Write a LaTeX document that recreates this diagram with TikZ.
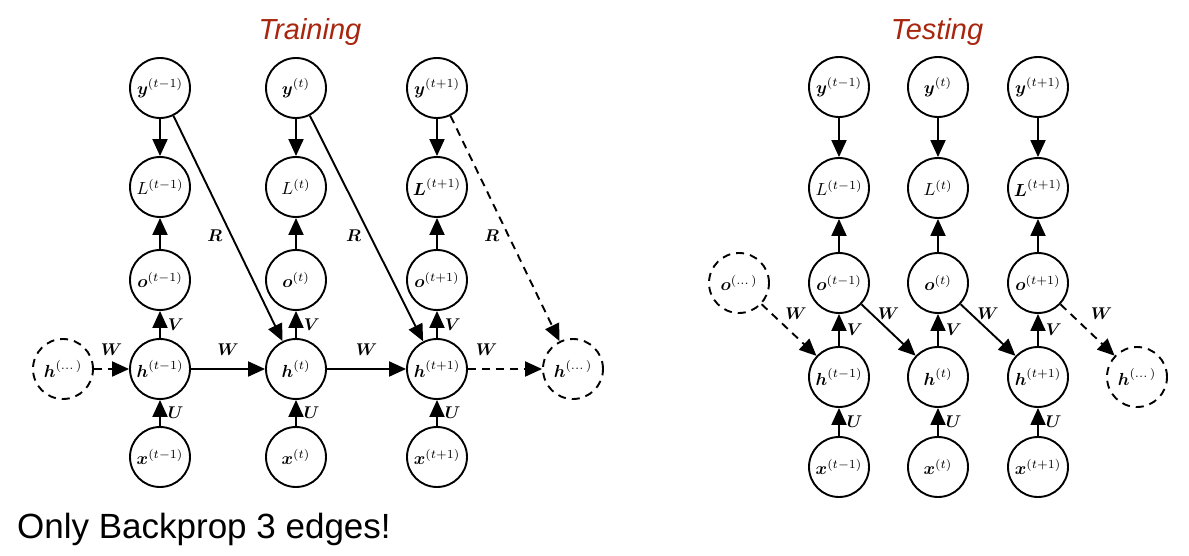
\documentclass[tikz,border=0pt]{standalone}
\usepackage{amsmath}
\usepackage{graphicx}
\usepackage{fontspec}
\newfontfamily\arialfont{Liberation Sans}
\usetikzlibrary{arrows.meta}
\definecolor{titlered}{RGB}{168,38,14}
\newcommand{\bs}[1]{\boldsymbol{#1}}
\newcommand{\nl}[1]{\scalebox{1.75}{$#1$}}
\newcommand{\el}[1]{\scalebox{1.7}{$\boldsymbol{#1}$}}
\begin{document}
\begin{tikzpicture}[x=1pt,y=-1pt,
  nd/.style={circle,draw,line width=1.9pt,minimum size=60pt,inner sep=0pt},
  dnd/.style={nd,dash pattern=on 8pt off 6pt},
  arr/.style={line width=1.9pt,-{Triangle[length=17pt,width=15pt]}},
  darr/.style={arr,dash pattern=on 8pt off 6pt},
  lbl/.style={inner sep=1pt},
  ttl/.style={font=\arialfont\itshape\fontsize{29}{34}\selectfont,text=titlered,anchor=base,inner sep=0pt}]
\useasboundingbox (0,0) rectangle (1189,556);

% ---------- Training ----------
\node[ttl] (ttrain) at (310,40) {Training};
\foreach \c/\x/\s in {1/160/t-1,2/296/t,3/437/t+1}{
  \node[nd] (y\c) at (\x,88) {\nl{\bs{y}^{(\s)}}};
  \node[nd] (o\c) at (\x,280) {\nl{\bs{o}^{(\s)}}};
  \node[nd] (h\c) at (\x,369) {\nl{\bs{h}^{(\s)}}};
  \node[nd] (x\c) at (\x,457) {\nl{\bs{x}^{(\s)}}};
}
\node[nd] (L1) at (160,187) {\nl{L^{(t-1)}}};
\node[nd] (L2) at (296,187) {\nl{L^{(t)}}};
\node[nd] (L3) at (437,187) {\nl{\bs{L}^{(t+1)}}};
\node[dnd] (hl) at (63,369) {\nl{\bs{h}^{(\dots)}}};
\node[dnd] (hr) at (573,369) {\nl{\bs{h}^{(\dots)}}};

\foreach \c in {1,2,3}{
  \draw[arr] (y\c) -- (L\c);
  \draw[arr] (o\c) -- (L\c);
  \draw[arr] (h\c) -- node[lbl,right=6pt]{\el{V}} (o\c);
  \draw[arr] (x\c) -- node[lbl,right=6pt]{\el{U}} (h\c);
}
\draw[darr] (hl) -- node[lbl,above=12pt]{\el{W}} (h1);
\draw[arr] (h1) -- node[lbl,above=12pt]{\el{W}} (h2);
\draw[arr] (h2) -- node[lbl,above=12pt]{\el{W}} (h3);
\draw[darr] (h3) -- node[lbl,pos=.25,above=12pt]{\el{W}} (hr);
\draw[arr] (y1) -- node[lbl,pos=.53,left=7pt]{\el{R}} (h2);
\draw[arr] (y2) -- node[lbl,pos=.53,left=7pt]{\el{R}} (h3);
\draw[darr] (y3) -- node[lbl,pos=.53,left=7pt]{\el{R}} (hr);

\node[font=\arialfont\fontsize{35}{42}\selectfont,anchor=base west,inner sep=0pt] (note) at (17,538) {Only Backprop 3 edges!};

% ---------- Testing ----------
\node[ttl] (ttest) at (937,40) {Testing};
\foreach \c/\x/\s in {1/839/t-1,2/938/t,3/1038/t+1}{
  \node[nd] (ty\c) at (\x,87) {\nl{\bs{y}^{(\s)}}};
  \node[nd] (to\c) at (\x,283) {\nl{\bs{o}^{(\s)}}};
  \node[nd] (th\c) at (\x,377) {\nl{\bs{h}^{(\s)}}};
  \node[nd] (tx\c) at (\x,467) {\nl{\bs{x}^{(\s)}}};
}
\node[nd] (tL1) at (839,188) {\nl{L^{(t-1)}}};
\node[nd] (tL2) at (938,188) {\nl{L^{(t)}}};
\node[nd] (tL3) at (1038,188) {\nl{\bs{L}^{(t+1)}}};
\node[dnd] (tol) at (739,283) {\nl{\bs{o}^{(\dots)}}};
\node[dnd] (thr) at (1137,377) {\nl{\bs{h}^{(\dots)}}};

\foreach \c in {1,2,3}{
  \draw[arr] (ty\c) -- (tL\c);
  \draw[arr] (to\c) -- (tL\c);
  \draw[arr] (th\c) -- node[lbl,right=6pt]{\el{V}} (to\c);
  \draw[arr] (tx\c) -- node[lbl,right=6pt]{\el{U}} (th\c);
}
\draw[darr] (tol) -- node[lbl,above=9pt,xshift=7pt]{\el{W}} (th1);
\draw[arr] (to1) -- node[lbl,above=9pt]{\el{W}} (th2);
\draw[arr] (to2) -- node[lbl,above=9pt]{\el{W}} (th3);
\draw[darr] (to3) -- node[lbl,above=9pt,xshift=14pt]{\el{W}} (thr);
\end{tikzpicture}
\end{document}
